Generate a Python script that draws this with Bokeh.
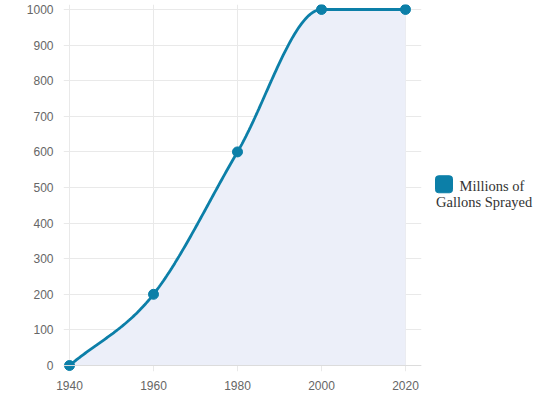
import numpy as np
from bokeh.plotting import figure
from bokeh.layouts import row
from bokeh.models import FixedTicker, Range1d, ColumnDataSource, Span
from bokeh.core.properties import value
from bokeh.embed import file_html
from bokeh.resources import INLINE

years = [1940, 1960, 1980, 2000, 2020]
gallons = [0, 200, 600, 1000, 1000]
y_ticks = [0, 100, 200, 300, 400, 500, 600, 700, 800, 900, 1000]
series_name = ["Millions of", "Gallons Sprayed"]

LINE = "#0c7fa8"
FILL = "#eceff9"
GRID = "#e9e9e9"
LABEL = "#666666"

# monotone cubic (Chart.js style) rendering of the series
xs = np.array(years, float)
ys = np.array(gallons, float)
n = len(xs)
d = np.diff(ys) / np.diff(xs)
m = np.zeros(n)
m[0] = d[0]
m[-1] = d[-1]
for k in range(1, n - 1):
    if d[k - 1] == 0 or d[k] == 0 or np.sign(d[k - 1]) != np.sign(d[k]):
        m[k] = 0
    else:
        m[k] = (d[k - 1] + d[k]) / 2
for k in range(n - 1):
    if abs(d[k]) < 1e-12:
        m[k] = m[k + 1] = 0
        continue
    a, b = m[k] / d[k], m[k + 1] / d[k]
    tau = a * a + b * b
    if tau > 9:
        t = 3 / np.sqrt(tau)
        m[k] = t * a * d[k]
        m[k + 1] = t * b * d[k]
cx, cy = [], []
for k in range(n - 1):
    h = xs[k + 1] - xs[k]
    t = np.linspace(0, 1, 60)
    h00 = 2 * t**3 - 3 * t**2 + 1
    h10 = t**3 - 2 * t**2 + t
    h01 = -2 * t**3 + 3 * t**2
    h11 = t**3 - t**2
    cx.extend(xs[k] + t * h)
    cy.extend(h00 * ys[k] + h10 * h * m[k] + h01 * ys[k + 1] + h11 * h * m[k + 1])
curve = ColumnDataSource(dict(x=cx, y=cy, base=[0] * len(cx)))
pts = ColumnDataSource(dict(x=years, y=gallons))

# frame: left 63, right 421, top 4, bottom 372 (px); 1940 at 69, 0 at 366, 1000 at 9
p = figure(width=424, height=392, output_backend="svg", toolbar_location=None,
           x_range=Range1d(1938.571, 2023.81), y_range=Range1d(-16.8, 1014),
           min_border_left=63, min_border_right=3, min_border_top=4, min_border_bottom=20)
p.outline_line_color = None
p.varea(x="x", y1="base", y2="y", source=curve, fill_color=FILL)

p.xaxis.ticker = FixedTicker(ticks=years)
p.yaxis.ticker = FixedTicker(ticks=y_ticks)
p.xgrid.ticker = FixedTicker(ticks=years)
p.ygrid.ticker = FixedTicker(ticks=y_ticks)
for ax in (p.xaxis, p.yaxis):
    ax.axis_line_color = None
    ax.major_tick_line_color = None
    ax.minor_tick_line_color = None
    ax.major_label_text_color = LABEL
    ax.major_label_text_font = "Liberation Sans"
    ax.major_label_text_font_size = "12px"
p.yaxis.major_label_standoff = 4
p.xaxis.major_label_standoff = 3
p.xgrid.grid_line_color = GRID
p.ygrid.grid_line_color = GRID
p.xgrid.bounds = (-12, 1000)
p.add_layout(Span(location=0, dimension="width", line_color="#dcdcdc", line_width=1))

p.line(x="x", y="y", source=curve, line_color=LINE, line_width=2.8)
p.scatter(x="x", y="y", source=pts, size=10, fill_color=LINE, line_color=LINE)

lg = figure(width=116, height=392, output_backend="svg", toolbar_location=None,
            x_range=Range1d(0, 116), y_range=Range1d(392, 0),
            min_border=0, min_border_left=0, min_border_right=0, min_border_top=0, min_border_bottom=0)
lg.axis.visible = False
lg.grid.visible = False
lg.outline_line_color = None
lg.rect(x=[19.5], y=[192], width=17, height=17, width_units="screen", height_units="screen",
        fill_color=LINE, line_color=LINE, border_radius=3)
lg.text(x=[35, 11.5], y=[194, 211], text=series_name, text_font=value("Liberation Serif"),
        text_font_size="14.5px", text_color="#333333", text_baseline="alphabetic")

layout = row(p, lg)
open("out.html", "w").write(file_html(layout, INLINE))
